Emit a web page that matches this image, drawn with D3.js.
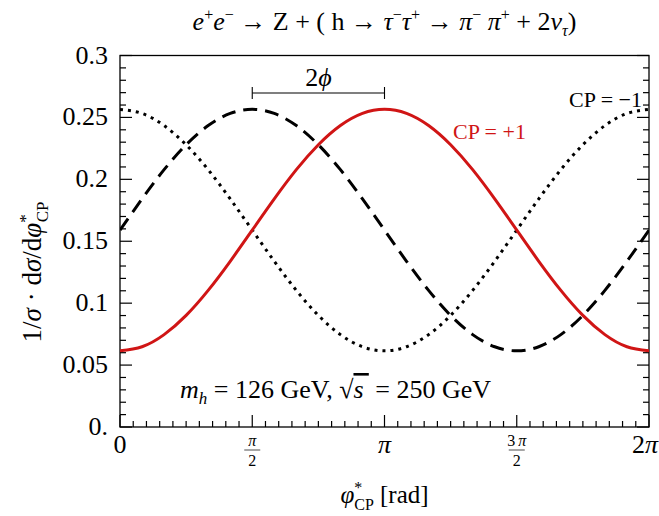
<!DOCTYPE html>
<html>
<head>
<meta charset="utf-8">
<script src="https://cdn.jsdelivr.net/npm/d3@7"></script>
<style>
  body { margin: 0; background: #fff; }
  svg { font-family: "Liberation Serif", "Times New Roman", Times, serif; }
  .lbl { font-size: 26px; fill: #000; }
</style>
</head>
<body>
<svg width="659" height="516"></svg>
<script>
// phase in units of pi, every pi/12
var phiPi = [0, 0.0833, 0.1667, 0.25, 0.3333, 0.4167, 0.5, 0.5833, 0.6667, 0.75, 0.8333, 0.9167,
             1, 1.0833, 1.1667, 1.25, 1.3333, 1.4167, 1.5, 1.5833, 1.6667, 1.75, 1.8333, 1.9167, 2];

// CP = +1 (solid red)
var cpEven = [0.0615, 0.0648, 0.0746, 0.0901, 0.1103, 0.1338, 0.159, 0.1842, 0.2078, 0.2279, 0.2434, 0.2532,
              0.2565, 0.2532, 0.2434, 0.2279, 0.2078, 0.1842, 0.159, 0.1338, 0.1103, 0.0901, 0.0746, 0.0648, 0.0615];
// CP = -1 (dotted)
var cpOdd = [0.2565, 0.2532, 0.2434, 0.2279, 0.2078, 0.1842, 0.159, 0.1338, 0.1103, 0.0901, 0.0746, 0.0648,
             0.0615, 0.0648, 0.0746, 0.0901, 0.1103, 0.1338, 0.159, 0.1842, 0.2078, 0.2279, 0.2434, 0.2532, 0.2565];
// mixed, shifted by 2phi (dashed)
var cpMix = [0.159, 0.1842, 0.2078, 0.2279, 0.2434, 0.2532, 0.2565, 0.2532, 0.2434, 0.2279, 0.2078, 0.1842,
             0.159, 0.1338, 0.1103, 0.0901, 0.0746, 0.0648, 0.0615, 0.0648, 0.0746, 0.0901, 0.1103, 0.1338, 0.159];

var yTicks = [0, 0.05, 0.1, 0.15, 0.2, 0.25, 0.3];
var yTickLabels = ["0.", "0.05", "0.1", "0.15", "0.2", "0.25", "0.3"];

var svg = d3.select("svg");
var L = 120, R = 649, T = 55.5, B = 427;
var red = "#d01515";

var x = d3.scaleLinear().domain([0, 2]).range([L, R]);
var y = d3.scaleLinear().domain([0, 0.3]).range([B, T]);

svg.append("clipPath").attr("id", "clip")
  .append("rect").attr("x", L).attr("y", T).attr("width", R - L).attr("height", B - T);

// frame
svg.append("rect")
  .attr("x", L).attr("y", T).attr("width", R - L).attr("height", B - T)
  .attr("fill", "none").attr("stroke", "#000").attr("stroke-width", 1.3);

// ticks, inward on left, right and bottom
var yMinor = d3.range(0, 0.3001, 0.01);
var xMinor = d3.range(0, 2.0001, 0.05);
var tk = svg.append("g").attr("stroke", "#000").attr("stroke-width", 1.2);
yMinor.forEach(function (v, i) {
  var len = (i % 5 === 0) ? 12 : 6;
  tk.append("line").attr("x1", L).attr("x2", L + len).attr("y1", y(v)).attr("y2", y(v));
  tk.append("line").attr("x1", R).attr("x2", R - len).attr("y1", y(v)).attr("y2", y(v));
});
xMinor.forEach(function (v, i) {
  var len = (i % 10 === 0) ? 12 : 6;
  tk.append("line").attr("x1", x(v)).attr("x2", x(v)).attr("y1", B).attr("y2", B - len);
});

// y tick labels
svg.selectAll(".ylab").data(yTicks).enter().append("text")
  .attr("class", "lbl")
  .attr("x", L - 12).attr("y", d => y(d) + 8)
  .attr("text-anchor", "end")
  .text((d, i) => yTickLabels[i]);

// x tick labels
function simple(v, anchor) {
  return svg.append("text").attr("class", "lbl").attr("x", anchor === "end" ? 658 : x(v)).attr("y", 453)
    .attr("text-anchor", anchor || "middle");
}
simple(0).text("0");
simple(1).append("tspan").attr("font-style", "italic").text("π");
var t2 = simple(2, "end");
t2.append("tspan").text("2");
t2.append("tspan").attr("font-style", "italic").text("π");
function frac(v, num) {
  var g = svg.append("g").attr("transform", "translate(" + x(v) + ",0)");
  var n = g.append("text").attr("y", 446).attr("text-anchor", "middle").attr("font-size", 16);
  if (num) n.append("tspan").text(num + "\u2009");
  n.append("tspan").attr("font-style", "italic").text("π");
  g.append("line").attr("x1", -8).attr("x2", 8).attr("y1", 450).attr("y2", 450)
    .attr("stroke", "#000").attr("stroke-width", 0.7);
  g.append("text").attr("y", 466).attr("text-anchor", "middle").attr("font-size", 16).text("2");
}
frac(0.5, "");
frac(1.5, "3");

// curves
var line = d3.line().x((d, i) => x(phiPi[i])).y(d => y(d)).curve(d3.curveNatural);
var plot = svg.append("g").attr("clip-path", "url(#clip)");
plot.append("path").datum(cpOdd).attr("d", line)
  .attr("fill", "none").attr("stroke", "#000").attr("stroke-width", 3)
  .attr("stroke-dasharray", "3,5");
plot.append("path").datum(cpMix).attr("d", line)
  .attr("fill", "none").attr("stroke", "#000").attr("stroke-width", 3)
  .attr("stroke-dasharray", "14,8");
plot.append("path").datum(cpEven).attr("d", line)
  .attr("fill", "none").attr("stroke", red).attr("stroke-width", 3);

// 2phi bracket
var by = 93;
var br = svg.append("g").attr("stroke", "#000").attr("stroke-width", 1.1);
br.append("line").attr("x1", x(0.5)).attr("x2", x(1)).attr("y1", by).attr("y2", by);
br.append("line").attr("x1", x(0.5)).attr("x2", x(0.5)).attr("y1", by - 6).attr("y2", by + 6);
br.append("line").attr("x1", x(1)).attr("x2", x(1)).attr("y1", by - 6).attr("y2", by + 6);
var ph = svg.append("text").attr("class", "lbl").attr("x", x(0.75)).attr("y", by - 7)
  .attr("text-anchor", "middle").style("font-size", "26px");
ph.append("tspan").text("2");
ph.append("tspan").attr("font-style", "italic").text("ϕ");

// curve labels
svg.append("text").attr("class", "lbl").attr("x", 642).attr("y", 107).attr("text-anchor", "end")
  .style("font-size", "22px").text("CP = \u22121");
svg.append("text").attr("x", 453).attr("y", 139)
  .attr("fill", red).style("font-size", "22px").text("CP = +1");

// title
var sup = 16, up = 10;
var ti = svg.append("text").attr("x", (L + R) / 2).attr("y", 30).attr("text-anchor", "middle")
  .style("font-size", "26px");
ti.append("tspan").attr("font-style", "italic").text("e");
ti.append("tspan").attr("dy", -up).attr("font-size", sup).text("+");
ti.append("tspan").attr("dy", up).attr("font-style", "italic").text("e");
ti.append("tspan").attr("dy", -up).attr("font-size", sup).text("\u2212");
ti.append("tspan").attr("dy", up).text(" \u2192 Z + ( h \u2192 ");
ti.append("tspan").attr("font-style", "italic").text("τ");
ti.append("tspan").attr("dy", -up).attr("font-size", sup).text("\u2212");
ti.append("tspan").attr("dy", up).attr("font-style", "italic").text("τ");
ti.append("tspan").attr("dy", -up).attr("font-size", sup).text("+");
ti.append("tspan").attr("dy", up).text(" \u2192 ");
ti.append("tspan").attr("font-style", "italic").text("π");
ti.append("tspan").attr("dy", -up).attr("font-size", sup).text("\u2212");
ti.append("tspan").attr("dy", up).text(" ");
ti.append("tspan").attr("font-style", "italic").text("π");
ti.append("tspan").attr("dy", -up).attr("font-size", sup).text("+");
ti.append("tspan").attr("dy", up).text(" + 2");
ti.append("tspan").attr("font-style", "italic").text("ν");
ti.append("tspan").attr("dy", 6).attr("font-size", sup).attr("font-style", "italic").text("τ");
ti.append("tspan").attr("dy", -6).text(")");

// annotation
var an = svg.append("text").attr("x", 180).attr("y", 398).style("font-size", "26px");
an.append("tspan").attr("font-style", "italic").text("m");
an.append("tspan").attr("dy", 6).attr("font-size", 17).attr("font-style", "italic").text("h");
an.append("tspan").attr("dy", -6).text(" = 126 GeV, \u221A");
an.append("tspan").attr("font-style", "italic").attr("text-decoration", "overline").text("s\u2009");
an.append("tspan").text(" = 250 GeV");

// x label
var xlab = svg.append("text").attr("x", (L + R) / 2).attr("y", 503).attr("text-anchor", "middle")
  .style("font-size", "25px");
xlab.append("tspan").attr("font-style", "italic").text("φ");
xlab.append("tspan").attr("dy", -10).attr("font-size", 16).text("*");
xlab.append("tspan").attr("dy", 17).attr("dx", -8).attr("font-size", 16).text("CP");
xlab.append("tspan").attr("dy", -7).text(" [rad]");

// y label
var ylab = svg.append("text").attr("transform", "translate(41,272) rotate(-90)")
  .attr("text-anchor", "middle").style("font-size", "27px");
ylab.append("tspan").text("1/");
ylab.append("tspan").attr("font-style", "italic").text("σ");
ylab.append("tspan").text(" \u00B7 d");
ylab.append("tspan").attr("font-style", "italic").text("σ");
ylab.append("tspan").text("/d");
ylab.append("tspan").attr("font-style", "italic").text("φ");
ylab.append("tspan").attr("dy", -10).attr("font-size", 17).text("*");
ylab.append("tspan").attr("dy", 17).attr("dx", -8).attr("font-size", 17).text("CP");
</script>
</body>
</html>
